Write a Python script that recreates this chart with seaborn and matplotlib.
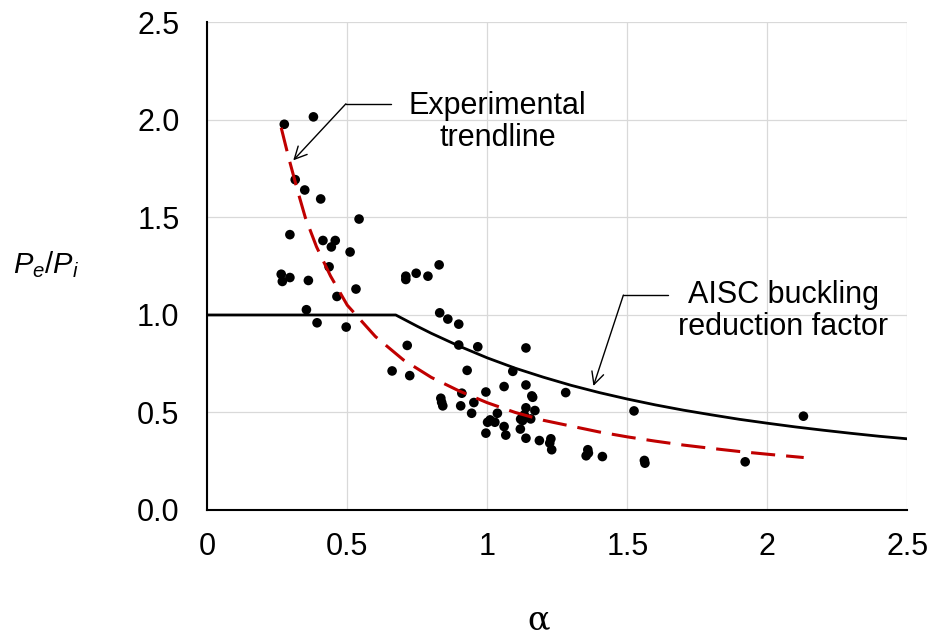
import pandas as pd
import matplotlib.pyplot as plt
import seaborn as sns

# test results: alpha vs Pe/Pi
alpha_test = [0.275, 0.379, 0.314, 0.348, 0.405, 0.542, 0.295, 0.413, 0.457, 0.443,
              0.510, 0.435, 0.264, 0.268, 0.295, 0.361, 0.709, 0.709, 0.746, 0.788,
              0.828, 0.531, 0.463, 0.354, 0.392, 0.496, 0.714, 0.830, 0.859, 0.898,
              0.898, 0.966, 1.138, 0.660, 0.723, 0.928, 1.091, 1.138, 1.060, 1.159,
              1.162, 1.280, 0.995, 0.909, 0.834, 0.837, 0.841, 0.952, 0.905, 0.944,
              1.036, 1.138, 1.170, 1.132, 1.119, 1.126, 1.155, 1.001, 1.027, 1.010,
              1.060, 0.995, 1.066, 1.118, 1.138, 1.186, 1.227, 1.223, 1.230, 1.359,
              1.353, 1.361, 1.411, 1.524, 1.561, 1.563, 1.921, 2.129]
ratio_test = [1.978, 2.016, 1.694, 1.641, 1.595, 1.492, 1.412, 1.382, 1.382, 1.349,
              1.323, 1.247, 1.209, 1.172, 1.192, 1.177, 1.199, 1.182, 1.214, 1.199,
              1.257, 1.133, 1.095, 1.027, 0.960, 0.938, 0.844, 1.011, 0.979, 0.953,
              0.846, 0.837, 0.831, 0.713, 0.689, 0.716, 0.711, 0.641, 0.633, 0.585,
              0.578, 0.602, 0.605, 0.599, 0.573, 0.552, 0.534, 0.551, 0.534, 0.496,
              0.496, 0.524, 0.510, 0.488, 0.466, 0.459, 0.467, 0.450, 0.450, 0.462,
              0.428, 0.394, 0.384, 0.415, 0.368, 0.356, 0.365, 0.343, 0.309, 0.309,
              0.278, 0.292, 0.274, 0.508, 0.254, 0.240, 0.247, 0.481]

# AISC buckling reduction factor curve
aisc_alpha = [0.0, 0.673, 0.75, 0.8, 0.9, 1.0, 1.1, 1.2, 1.3, 1.4, 1.5, 1.6, 1.7,
              1.8, 1.9, 2.0, 2.1, 2.2, 2.3, 2.4, 2.5]
aisc_ratio = [1.0, 1.0, 0.942, 0.906, 0.840, 0.780, 0.727, 0.681, 0.639, 0.602, 0.569,
              0.539, 0.512, 0.488, 0.465, 0.445, 0.426, 0.409, 0.393, 0.378, 0.365]

# experimental trendline
trend_alpha = [0.264, 0.29, 0.32, 0.35, 0.39, 0.44, 0.5, 0.6, 0.7, 0.8, 0.9, 1.0,
               1.1, 1.2, 1.3, 1.4, 1.5, 1.6, 1.7, 1.8, 1.9, 2.0, 2.13]
trend_ratio = [1.96, 1.81, 1.65, 1.50, 1.35, 1.20, 1.05, 0.89, 0.77, 0.68, 0.61, 0.55,
               0.50, 0.46, 0.43, 0.40, 0.375, 0.353, 0.333, 0.316, 0.300, 0.286, 0.269]

tests = pd.DataFrame({'alpha': alpha_test, 'ratio': ratio_test})
aisc = pd.DataFrame({'alpha': aisc_alpha, 'ratio': aisc_ratio})
trend = pd.DataFrame({'alpha': trend_alpha, 'ratio': trend_ratio})

sns.set_theme(style='white')
plt.rcParams['font.family'] = ['Liberation Sans', 'DejaVu Sans']
plt.rcParams['text.color'] = 'black'
plt.rcParams['axes.labelcolor'] = 'black'
plt.rcParams['mathtext.fontset'] = 'custom'
plt.rcParams['mathtext.it'] = 'Liberation Sans:italic'
plt.rcParams['mathtext.rm'] = 'Liberation Sans'

fig = plt.figure(figsize=(9.3, 6.37), dpi=100)
ax = fig.add_axes([0.2229, 0.1994, 0.7527, 0.7653])

sns.lineplot(data=aisc, x='alpha', y='ratio', ax=ax, color='black', lw=2.0,
             sort=False, estimator=None, zorder=3)
sns.scatterplot(data=tests, x='alpha', y='ratio', ax=ax, color='black', s=48,
                edgecolor='none', zorder=4)
sns.lineplot(data=trend, x='alpha', y='ratio', ax=ax, color='#C00000', lw=2.2,
             sort=False, estimator=None, zorder=5)
ax.lines[-1].set_dashes((7.9, 3.6))

ax.set_xlim(0, 2.5)
ax.set_ylim(0, 2.5)
ticks = [0, 0.5, 1, 1.5, 2, 2.5]
ax.set_xticks(ticks, ['0', '0.5', '1', '1.5', '2', '2.5'])
ax.set_yticks(ticks, ['0.0', '0.5', '1.0', '1.5', '2.0', '2.5'])
ax.tick_params(axis='both', length=0, labelsize=22, colors='black')
ax.tick_params(axis='x', pad=16)
ax.tick_params(axis='y', pad=20)
ax.grid(True, color='#D9D9D9', lw=0.9)
ax.set_axisbelow(True)
for side in ['top', 'right']:
    ax.spines[side].set_visible(False)
for side in ['left', 'bottom']:
    ax.spines[side].set_color('black')
    ax.spines[side].set_linewidth(1.5)

ax.set_xlabel('α', family=['DejaVu Serif'], fontsize=24)
ax.xaxis.set_label_coords(0.473, -0.226)
ax.xaxis.label.set_va('center')
ax.set_ylabel(r'$P_e/P_i$', rotation=0, fontsize=21)
ax.yaxis.set_label_coords(-0.23, 0.503)
ax.yaxis.label.set_ha('center')
ax.yaxis.label.set_va('center')

# callouts
arrow = dict(arrowstyle='->', color='black', lw=1.0, mutation_scale=22,
             shrinkA=0, shrinkB=0)
ax.text(1.036, 1.99, 'Experimental\ntrendline', ha='center', va='center',
        fontsize=22, linespacing=1.1)
ax.plot([0.655, 0.495], [2.083, 2.083], color='black', lw=1.0)
ax.annotate('', xy=(0.307, 1.793), xytext=(0.495, 2.083), arrowprops=arrow)

ax.text(2.058, 1.02, 'AISC buckling\nreduction factor', ha='center', va='center',
        fontsize=22, linespacing=1.1)
ax.plot([1.646, 1.486], [1.102, 1.102], color='black', lw=1.0)
ax.annotate('', xy=(1.379, 0.636), xytext=(1.486, 1.102), arrowprops=arrow)

fig.savefig('out.png', dpi=100)
